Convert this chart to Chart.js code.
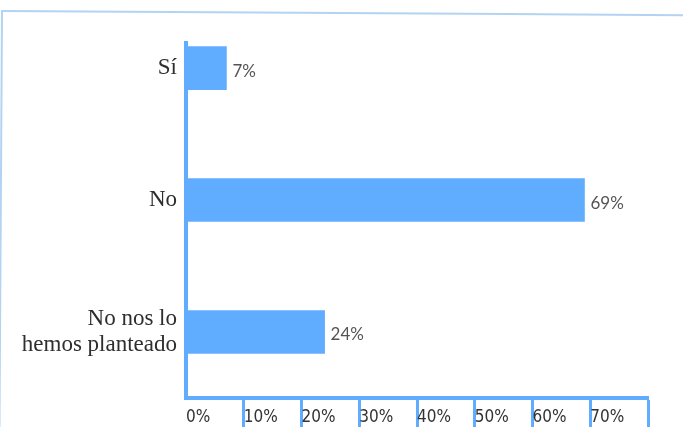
<!DOCTYPE html>
<html>
<head>
<meta charset="utf-8">
<script src="https://cdn.jsdelivr.net/npm/chart.js@4/dist/chart.umd.min.js"></script>
<style>
  html, body { margin: 0; padding: 0; background: #ffffff; }
  #wrap { position: relative; width: 683px; height: 427px; overflow: hidden; background: #fff; }
  #frame { position: absolute; left: 1px; top: 10px; width: 700px; height: 430px;
           border-top: 2px solid #b3d3f2; border-left: 2px solid #b3d3f2; transform: rotate(0.35deg); transform-origin: 0 0; }
  canvas { position: absolute; left: 0; top: 0; }
</style>
</head>
<body>
<div id="wrap">
  <div id="frame"></div>
  <canvas id="c" width="683" height="427"></canvas>
</div>
<script>
// Data
const categories = ['Sí', 'No', ['No nos lo', 'hemos planteado']];
const values = [7, 69, 24];
const xTickValues = [0, 10, 20, 30, 40, 50, 60, 70];

const BLUE = '#60adff';

const valueLabels = {
  id: 'valueLabels',
  afterDatasetsDraw(chart) {
    const ctx = chart.ctx;
    const meta = chart.getDatasetMeta(0);
    ctx.save();
    ctx.font = '17px Lato, "DejaVu Sans", sans-serif';
    ctx.fillStyle = '#555555';
    ctx.textAlign = 'left';
    ctx.textBaseline = 'middle';
    meta.data.forEach((el, i) => {
      ctx.fillText(values[i] + '%', el.x + 6, el.y + 3);
    });
    ctx.restore();
  }
};

new Chart(document.getElementById('c'), {
  type: 'bar',
  data: {
    datasets: [{
      data: values.map((v, i) => ({ x: v, y: i })),
      backgroundColor: BLUE,
      borderWidth: 0,
      barThickness: 43
    }]
  },
  options: {
    indexAxis: 'y',
    responsive: false,
    animation: false,
    devicePixelRatio: 1,
    layout: { padding: { top: 43, right: 35, bottom: 0, left: 0 } },
    plugins: { legend: { display: false }, tooltip: { enabled: false } },
    scales: {
      x: {
        type: 'linear',
        min: 0,
        max: 80,
        afterBuildTicks: (s) => { s.ticks = xTickValues.concat([80]).map(v => ({ value: v })); },
        afterFit: (s) => { s.height = 29; },
        border: { display: true, color: BLUE, width: 4 },
        grid: {
          display: true,
          drawOnChartArea: false,
          drawTicks: true,
          tickLength: 29,
          tickWidth: 3,
          tickColor: (ctx) => (ctx.tick && ctx.tick.value === 0) ? 'rgba(0,0,0,0)' : BLUE
        },
        ticks: {
          align: 'start',
          padding: -20,
          color: '#333333',
          font: { family: "'Liberation Sans Narrow', 'DejaVu Sans Condensed', sans-serif", size: 17 },
          callback: (v) => xTickValues.includes(v) ? v + '%' : ''
        }
      },
      y: {
        type: 'linear',
        reverse: true,
        offset: false,
        grace: 0,
        min: -0.19,
        max: 2.5,
        afterBuildTicks: (s) => { s.ticks = categories.map((_, i) => ({ value: i })); },
        afterFit: (s) => { s.width = 186; },
        border: { display: true, color: BLUE, width: 4 },
        grid: { display: false, drawTicks: false, offset: false },
        ticks: {
          padding: 9,
          color: '#2e2e2e',
          font: { family: "'Liberation Serif', 'DejaVu Serif', serif", size: 23, lineHeight: 1.13 },
          callback: (v) => categories[v]
        }
      }
    }
  },
  plugins: [valueLabels]
});
</script>
</body>
</html>
